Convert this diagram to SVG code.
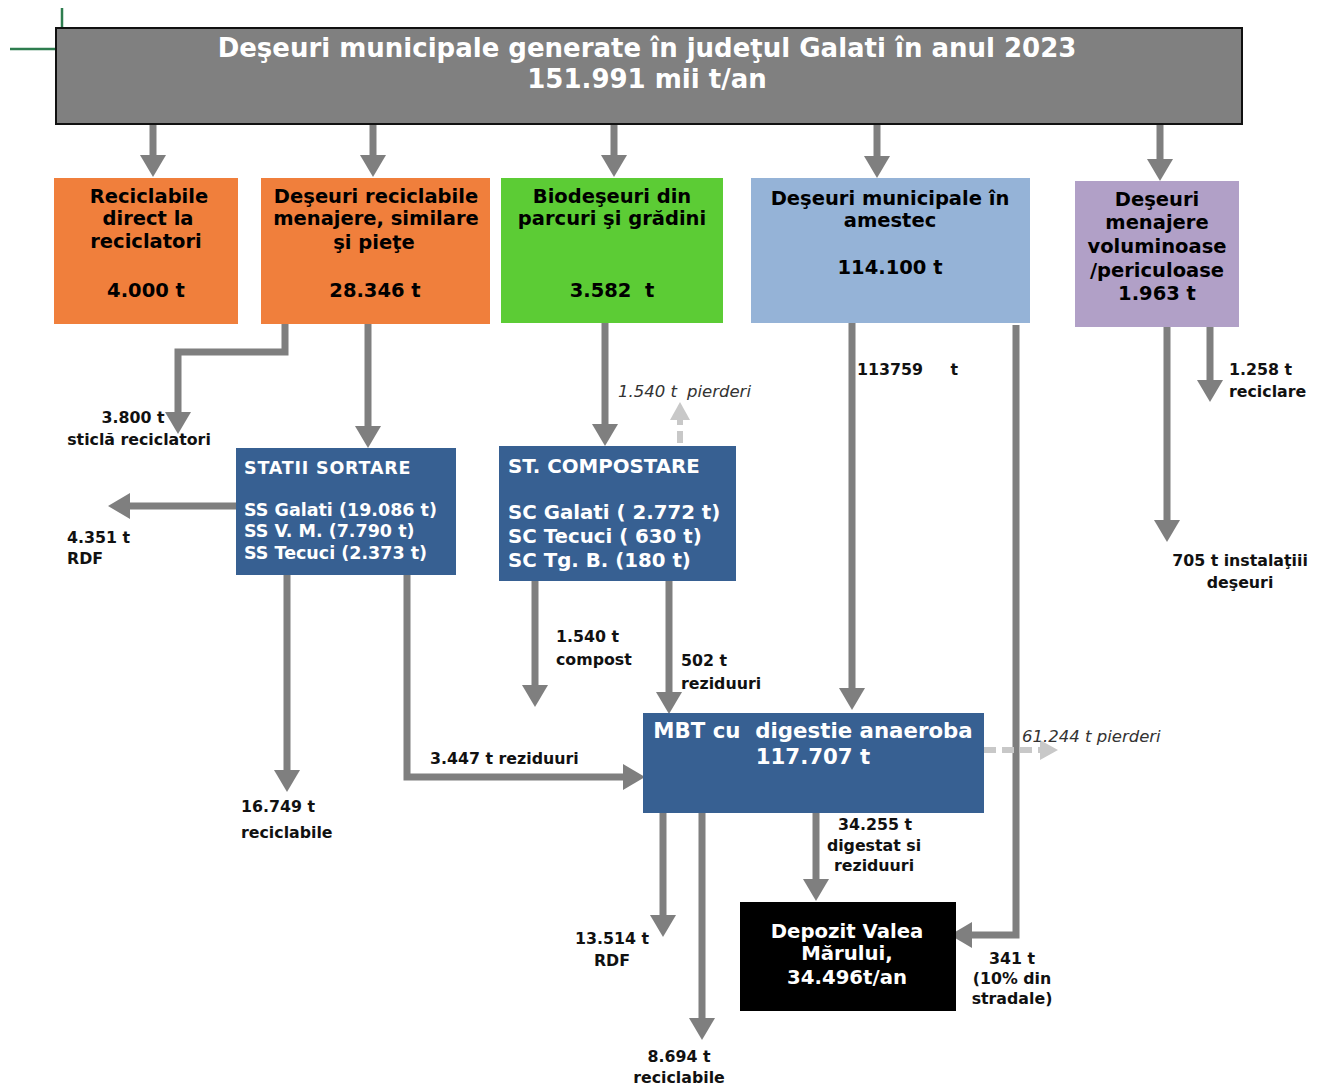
<svg xmlns="http://www.w3.org/2000/svg" width="1324" height="1089" viewBox="0 0 1324 1089">
  <style>
    .t { font-family: "DejaVu Sans", Verdana, sans-serif; font-weight: bold; }
    .wh { fill: #ffffff; }
    .bk { fill: #000000; }
    .lbl { font-family: "DejaVu Sans", Verdana, sans-serif; font-weight: bold; font-size: 15.8px; fill: #111111; }
    .it { font-family: "DejaVu Sans", Verdana, sans-serif; font-style: italic; font-size: 16.5px; fill: #333333; }
    .flow { fill: none; stroke: #7f7f7f; stroke-width: 7; marker-end: url(#ah); }
    .loss { fill: none; stroke: #c8c8c8; stroke-width: 6; stroke-dasharray: 12 6; marker-end: url(#ahl); }
  </style>
  <defs>
    <marker id="ah" markerUnits="userSpaceOnUse" markerWidth="22" markerHeight="26" refX="8" refY="13" orient="auto">
      <path d="M0,0 L22,13 L0,26 z" fill="#7f7f7f"/>
    </marker>
    <marker id="ahl" markerUnits="userSpaceOnUse" markerWidth="18" markerHeight="20" refX="6" refY="10" orient="auto">
      <path d="M0,0 L18,10 L0,20 z" fill="#c8c8c8"/>
    </marker>
  </defs>

  <rect width="1324" height="1089" fill="#ffffff"/>

  <!-- corner guide lines -->
  <g id="guides" stroke="#2e7d4f" stroke-width="2.5">
    <line x1="62" y1="8" x2="62" y2="28"/>
    <line x1="10" y1="49" x2="56" y2="49"/>
  </g>

  <!-- connectors -->
  <g id="connectors">
    <line class="flow" x1="153" y1="124" x2="153" y2="163"/>
    <line class="flow" x1="373" y1="124" x2="373" y2="163"/>
    <line class="flow" x1="614" y1="124" x2="614" y2="163"/>
    <line class="flow" x1="877" y1="124" x2="877" y2="164"/>
    <line class="flow" x1="1160" y1="124" x2="1160" y2="167"/>

    <polyline class="flow" points="285,324 285,352 178,352 178,420"/>
    <line class="flow" x1="368" y1="324" x2="368" y2="434"/>
    <line class="flow" x1="605" y1="323" x2="605" y2="432"/>
    <line class="loss" x1="680" y1="443" x2="680" y2="414"/>

    <line class="flow" x1="236" y1="506" x2="122" y2="506"/>
    <line class="flow" x1="287" y1="575" x2="287" y2="778"/>
    <polyline class="flow" points="407,575 407,777 631,777"/>

    <line class="flow" x1="535" y1="581" x2="535" y2="693"/>
    <line class="flow" x1="669" y1="581" x2="669" y2="700"/>

    <line class="flow" x1="852" y1="323" x2="852" y2="696"/>
    <polyline class="flow" points="1016,325 1016,935 964,935"/>

    <line class="flow" x1="1167" y1="327" x2="1167" y2="528"/>
    <line class="flow" x1="1210" y1="327" x2="1210" y2="388"/>

    <line class="loss" x1="984" y1="750" x2="1046" y2="750"/>
    <line class="flow" x1="663" y1="813" x2="663" y2="923"/>
    <line class="flow" x1="702" y1="813" x2="702" y2="1026"/>
    <line class="flow" x1="816" y1="813" x2="816" y2="887"/>
  </g>

  <!-- header -->
  <g id="total">
    <rect x="56" y="28" width="1186" height="96" fill="#808080" stroke="#111111" stroke-width="2"/>
    <text class="t wh" x="647" y="57" font-size="26" text-anchor="middle">Deşeuri municipale generate în judeţul Galati în anul 2023</text>
    <text class="t wh" x="647" y="88" font-size="26" text-anchor="middle">151.991 mii t/an</text>
  </g>

  <g id="reciclabile-direct">
    <rect x="54" y="178" width="184" height="146" fill="#f07f3c"/>
    <g class="t bk" font-size="19.5" text-anchor="middle">
      <text x="149" y="203">Reciclabile</text>
      <text x="148" y="225">direct la</text>
      <text x="146" y="248">reciclatori</text>
      <text x="146" y="297">4.000 t</text>
    </g>
  </g>

  <g id="reciclabile-menajere">
    <rect x="261" y="178" width="229" height="146" fill="#f07f3c"/>
    <g class="t bk" font-size="19.5" text-anchor="middle">
      <text x="376" y="203">Deşeuri reciclabile</text>
      <text x="376" y="225">menajere, similare</text>
      <text x="374" y="249">şi pieţe</text>
      <text x="375" y="297">28.346 t</text>
    </g>
  </g>

  <g id="biodeseuri">
    <rect x="501" y="178" width="222" height="145" fill="#5ccc35"/>
    <g class="t bk" font-size="19.5" text-anchor="middle">
      <text x="612" y="203">Biodeşeuri din</text>
      <text x="612" y="225">parcuri şi grădini</text>
      <text x="612" y="297" xml:space="preserve">3.582  t</text>
    </g>
  </g>

  <g id="amestec">
    <rect x="751" y="178" width="279" height="145" fill="#95b3d7"/>
    <g class="t bk" font-size="19.5" text-anchor="middle">
      <text x="890" y="205">Deşeuri municipale în</text>
      <text x="890" y="227">amestec</text>
      <text x="890" y="274">114.100 t</text>
    </g>
  </g>

  <g id="voluminoase">
    <rect x="1075" y="181" width="164" height="146" fill="#b1a0c7"/>
    <g class="t bk" font-size="19.5" text-anchor="middle">
      <text x="1157" y="206">Deşeuri</text>
      <text x="1157" y="229">menajere</text>
      <text x="1157" y="253">voluminoase</text>
      <text x="1157" y="277">/periculoase</text>
      <text x="1157" y="300">1.963 t</text>
    </g>
  </g>

  <g id="statii-sortare">
    <rect x="236" y="448" width="220" height="127" fill="#376092"/>
    <g class="t wh" font-size="17.5">
      <text x="244" y="474" letter-spacing="0.8">STATII SORTARE</text>
      <text x="244" y="516">SS Galati (19.086 t)</text>
      <text x="244" y="537">SS V. M. (7.790 t)</text>
      <text x="244" y="559">SS Tecuci (2.373 t)</text>
    </g>
  </g>

  <g id="statii-compostare">
    <rect x="499" y="446" width="237" height="135" fill="#376092"/>
    <g class="t wh" font-size="19.8">
      <text x="508" y="473">ST. COMPOSTARE</text>
      <text x="508" y="519">SC Galati ( 2.772 t)</text>
      <text x="508" y="543">SC Tecuci ( 630 t)</text>
      <text x="508" y="567">SC Tg. B. (180 t)</text>
    </g>
  </g>

  <g id="mbt">
    <rect x="643" y="713" width="341" height="100" fill="#376092"/>
    <g class="t wh" font-size="21.3" text-anchor="middle">
      <text x="813" y="738" xml:space="preserve">MBT cu  digestie anaeroba</text>
      <text x="813" y="764">117.707 t</text>
    </g>
  </g>

  <g id="depozit">
    <rect x="740" y="902" width="216" height="109" fill="#000000"/>
    <g class="t wh" font-size="19.7" text-anchor="middle">
      <text x="847" y="938">Depozit Valea</text>
      <text x="847" y="960">Mărului,</text>
      <text x="847" y="984">34.496t/an</text>
    </g>
  </g>

  <!-- flow labels -->
  <g id="labels">
    <text class="lbl" x="133" y="423" text-anchor="middle">3.800 t</text>
    <text class="lbl" x="139" y="445" text-anchor="middle">sticlă reciclatori</text>

    <text class="it" x="618" y="397">1.540 t</text>
    <text class="it" x="687" y="397" font-size="14">pierderi</text>

    <text class="lbl" x="67" y="543">4.351 t</text>
    <text class="lbl" x="67" y="564">RDF</text>

    <text class="lbl" x="241" y="812">16.749 t</text>
    <text class="lbl" x="241" y="838">reciclabile</text>

    <text class="lbl" x="430" y="764">3.447 t reziduuri</text>

    <text class="lbl" x="556" y="642">1.540 t</text>
    <text class="lbl" x="556" y="665">compost</text>

    <text class="lbl" x="681" y="666">502 t</text>
    <text class="lbl" x="681" y="689">reziduuri</text>

    <text class="lbl" x="857" y="375" xml:space="preserve">113759     t</text>

    <text class="lbl" x="1229" y="375">1.258 t</text>
    <text class="lbl" x="1229" y="397">reciclare</text>

    <text class="lbl" x="1240" y="566" text-anchor="middle">705 t instalaţiii</text>
    <text class="lbl" x="1240" y="588" text-anchor="middle">deşeuri</text>

    <text class="it" x="1022" y="742" font-size="17">61.244 t pierderi</text>

    <text class="lbl" x="875" y="830" text-anchor="middle">34.255 t</text>
    <text class="lbl" x="874" y="851" text-anchor="middle" font-size="14.3">digestat si</text>
    <text class="lbl" x="874" y="871" text-anchor="middle" font-size="14.3">reziduuri</text>

    <text class="lbl" x="612" y="944" text-anchor="middle">13.514 t</text>
    <text class="lbl" x="612" y="966" text-anchor="middle">RDF</text>

    <text class="lbl" x="1012" y="964" text-anchor="middle">341 t</text>
    <text class="lbl" x="1012" y="984" text-anchor="middle" font-size="14.3">(10% din</text>
    <text class="lbl" x="1012" y="1004" text-anchor="middle" font-size="14.3">stradale)</text>

    <text class="lbl" x="679" y="1062" text-anchor="middle">8.694 t</text>
    <text class="lbl" x="679" y="1083" text-anchor="middle">reciclabile</text>
  </g>
</svg>
